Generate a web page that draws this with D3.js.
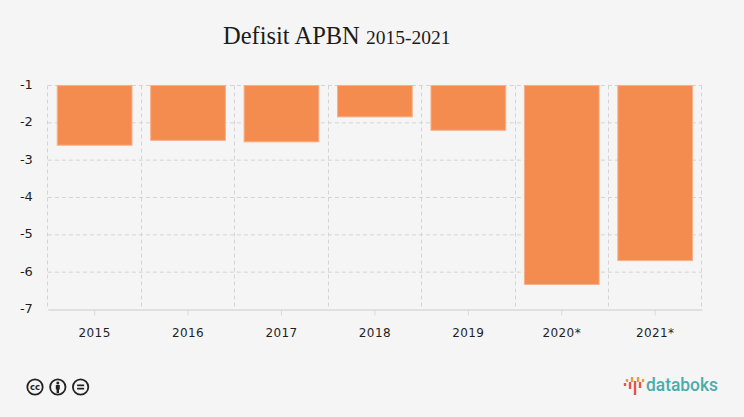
<!DOCTYPE html><html><head><meta charset="utf-8">
<script src="https://cdn.jsdelivr.net/npm/d3@7"></script>
<style>
html,body{margin:0;padding:0;background:#f5f5f5;}
svg{display:block;}
text{font-family:"DejaVu Sans",sans-serif;}
</style></head>
<body><svg id="chart"></svg>
<script>
var years = ["2015","2016","2017","2018","2019","2020*","2021*"],
    deficit = [-2.6,-2.47,-2.51,-1.84,-2.2,-6.33,-5.69],
    yTicks = [-1,-2,-3,-4,-5,-6,-7];

// little bars of the databoks logo: offset from the logo centre, top, bottom
var logoBars = [[-10,-2,1,"#e0584c"],[-5,-3,4,"#e0584c"],[0,-4,10,"#e0584c"],[5,-3,3,"#e0584c"],
                [-8,-6,-3,"#ef9a3f"],[-3,-8,-3,"#ef9a3f"],[3,-8,-3,"#ef9a3f"],[8,-6,-3,"#ef9a3f"]];

var width = 744, height = 417;
var plotLeft = 47.9, plotRight = 701.9, plotTop = 85.5, plotBottom = 309.5;

var svg = d3.select("#chart").attr("width", width).attr("height", height);
svg.append("rect").attr("width", width).attr("height", height).attr("fill", "#f5f5f5");

var x = d3.scaleBand().domain(years).range([plotLeft, plotRight]).paddingInner(0.2).paddingOuter(0.1);
var bands = d3.scaleBand().domain(years).range([plotLeft, plotRight]);
var y = d3.scaleLinear().domain([-1, -7]).range([plotTop, plotBottom]);

var title = svg.append("text")
  .attr("x", 223).attr("y", 44)
  .style("font-family", "'Liberation Serif',serif")
  .style("font-size", "24.5px")
  .attr("fill", "#1c1c1c")
  .text("Defisit APBN ");
title.append("tspan").style("font-size", "19.5px").text("2015-2021");

// grid
svg.selectAll(".hgrid").data(yTicks.slice(0, -1)).enter().append("line")
  .attr("class", "hgrid")
  .attr("x1", plotLeft).attr("x2", plotRight)
  .attr("y1", function(d) { return y(d); }).attr("y2", function(d) { return y(d); })
  .attr("stroke", "#d4d4d4").attr("stroke-dasharray", "4,3");

var vlines = [plotLeft].concat(years.map(function(d) { return bands(d) + bands.bandwidth(); }));
svg.selectAll(".vgrid").data(vlines).enter().append("line")
  .attr("class", "vgrid")
  .attr("x1", function(d) { return Math.floor(d) + 0.5; }).attr("x2", function(d) { return Math.floor(d) + 0.5; })
  .attr("y1", plotTop).attr("y2", plotBottom)
  .attr("stroke", "#d4d4d4").attr("stroke-dasharray", "4,3");

// bars
svg.selectAll(".bar").data(deficit).enter().append("rect")
  .attr("class", "bar")
  .attr("x", function(d, i) { return x(years[i]); })
  .attr("y", y(-1))
  .attr("width", x.bandwidth())
  .attr("height", function(d) { return y(d) - y(-1); })
  .attr("fill", "#f48c50")
  .attr("stroke", "#f7b08a").attr("stroke-width", 1);

// axes
var xAxis = d3.axisBottom(bands).tickSize(6).tickPadding(13).tickSizeOuter(0);
var gx = svg.append("g").attr("transform", "translate(0," + plotBottom + ")").call(xAxis);
gx.select(".domain").attr("stroke", "#d9d9d9").attr("stroke-width", 1.5);
gx.selectAll(".tick line").attr("stroke", "#d9d9d9");
gx.selectAll("text").style("font-size", "12px").attr("fill", "#1f1f1f").style("letter-spacing", "0.4px");

var yAxis = d3.axisLeft(y).tickValues(yTicks).tickSize(0).tickPadding(15)
  .tickFormat(function(d) { return d; });
var gy = svg.append("g").attr("transform", "translate(" + plotLeft + ",0)").call(yAxis);
gy.select(".domain").remove();
gy.selectAll("text").style("font-size", "13px").attr("fill", "#1f1f1f").attr("dy", "0.22em");

// cc badges
var badges = svg.selectAll(".badge").data(["cc", "by", "nd"]).enter().append("g")
  .attr("class", "badge")
  .attr("transform", function(d, i) { return "translate(" + (35 + i * 22.8) + ",387)"; });
badges.append("circle").attr("r", 7.7).attr("fill", "#f5f5f5").attr("stroke", "#222").attr("stroke-width", 1.8);
badges.filter(function(d) { return d == "cc"; }).append("text")
  .attr("text-anchor", "middle").attr("y", 3)
  .style("font-size", "8.5px").style("font-weight", "bold").attr("fill", "#222").text("cc");
var by = badges.filter(function(d) { return d == "by"; });
by.append("circle").attr("cy", -4).attr("r", 1.5).attr("fill", "#222");
by.append("rect").attr("x", -2).attr("y", -2).attr("width", 4).attr("height", 4.5).attr("fill", "#222");
by.append("rect").attr("x", -1.2).attr("y", 2).attr("width", 2.4).attr("height", 4).attr("fill", "#222");
var nd = badges.filter(function(d) { return d == "nd"; });
nd.append("rect").attr("x", -3.5).attr("y", -2.5).attr("width", 7).attr("height", 1.7).attr("fill", "#222");
nd.append("rect").attr("x", -3.5).attr("y", 0.8).attr("width", 7).attr("height", 1.7).attr("fill", "#222");

// logo
var logo = svg.append("g").attr("transform", "translate(635,385)");
logo.selectAll("rect").data(logoBars).enter().append("rect")
  .attr("x", function(d) { return d[0] - 1.2; })
  .attr("y", function(d) { return d[1]; })
  .attr("width", 2.4)
  .attr("height", function(d) { return d[2] - d[1]; })
  .attr("fill", function(d) { return d[3]; });
svg.append("text").attr("x", 646).attr("y", 391)
  .style("font-family", "Roboto,sans-serif")
  .style("font-size", "18px").style("font-weight", "500")
  .attr("textLength", 72).attr("lengthAdjust", "spacingAndGlyphs")
  .attr("fill", "#4aacac").text("databoks");
</script>
</body></html>
